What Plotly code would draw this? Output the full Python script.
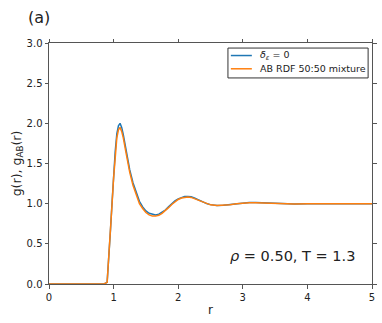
import plotly.graph_objects as go

r = [0.0, 0.2, 0.4, 0.6, 0.8, 0.85, 0.9, 0.925, 0.95, 0.975, 1.0, 1.025, 1.05, 1.075, 1.1, 1.125, 1.15,
     1.2, 1.25, 1.3, 1.35, 1.4, 1.45, 1.5, 1.55, 1.6, 1.65, 1.7, 1.75, 1.8, 1.85, 1.9, 1.95,
     2.0, 2.05, 2.1, 2.15, 2.2, 2.25, 2.3, 2.35, 2.4, 2.45, 2.5, 2.6, 2.7, 2.8, 2.9, 3.0,
     3.1, 3.2, 3.3, 3.4, 3.5, 3.6, 3.7, 3.8, 4.0, 4.2, 4.4, 4.6, 4.8, 5.0]
g_blue = [0, 0, 0, 0, 0, 0, 0.02, 0.3, 0.65, 1.0, 1.35, 1.65, 1.87, 1.97, 2.0, 1.95, 1.86,
          1.63, 1.42, 1.26, 1.13, 1.03, 0.96, 0.91, 0.88, 0.865, 0.86, 0.87, 0.89, 0.92, 0.96, 1.0, 1.035,
          1.06, 1.078, 1.088, 1.09, 1.085, 1.07, 1.05, 1.03, 1.012, 0.998, 0.988, 0.978, 0.98, 0.99, 1.0, 1.008,
          1.013, 1.014, 1.012, 1.007, 1.002, 0.998, 0.996, 0.997, 1.0, 1.002, 1.001, 1.0, 1.0, 1.0]
g_orange = [0, 0, 0, 0, 0, 0, 0.02, 0.3, 0.64, 0.98, 1.32, 1.6, 1.82, 1.92, 1.95, 1.9, 1.82,
            1.6, 1.39, 1.23, 1.1, 1.0, 0.94, 0.89, 0.86, 0.845, 0.845, 0.855, 0.88, 0.91, 0.95, 0.99, 1.025,
            1.052, 1.07, 1.08, 1.083, 1.078, 1.063, 1.044, 1.025, 1.008, 0.995, 0.985, 0.976, 0.978, 0.988, 0.998, 1.006,
            1.011, 1.012, 1.01, 1.006, 1.001, 0.998, 0.996, 0.997, 1.0, 1.002, 1.001, 1.0, 1.0, 1.0]

series_names = ["<i>δ</i><sub><i>ε</i></sub> = 0", "AB RDF 50:50 mixture"]
series_colors = ["#1f77b4", "#ff7f0e"]
x_ticks = [0, 1, 2, 3, 4, 5]
y_ticks = [0.0, 0.5, 1.0, 1.5, 2.0, 2.5, 3.0]

font = "DejaVu Sans"
axcol = "#555555"

fig = go.Figure()
for ys, nm, col in zip([g_blue, g_orange], series_names, series_colors):
    fig.add_trace(go.Scatter(x=r, y=ys, mode="lines", line=dict(color=col, width=1.5),
                             name=nm, showlegend=False))

# legend drawn manually (matplotlib-like compact box)
shapes = [dict(type="rect", xref="paper", yref="paper", x0=0.554, x1=0.988, y0=0.855, y1=0.979,
               line=dict(color="#333333", width=1), fillcolor="white", layer="above")]
annotations = []
leg_y = [0.948, 0.893]
for yy, nm, col in zip(leg_y, series_names, series_colors):
    shapes.append(dict(type="line", xref="paper", yref="paper", x0=0.563, x1=0.628, y0=yy, y1=yy,
                       line=dict(color=col, width=1.5), layer="above"))
    annotations.append(dict(text=nm, xref="paper", yref="paper", x=0.646, y=yy, xanchor="left",
                            yanchor="middle", showarrow=False, font=dict(size=9.5, color="#222222")))

annotations += [
    dict(text="(a)", xref="paper", yref="paper", x=-0.07, y=1.06, xanchor="left", yanchor="bottom",
         showarrow=False, font=dict(size=16)),
    dict(text="<i>ρ</i> = 0.50, T = 1.3", xref="paper", yref="paper", x=0.955, y=0.117,
         xanchor="right", yanchor="middle", showarrow=False, font=dict(size=14.5)),
]

fig.update_layout(
    width=382, height=323,
    margin=dict(l=49, r=10, t=43, b=39, autoexpand=False),
    plot_bgcolor="white", paper_bgcolor="white",
    font=dict(family=font, color="#222222", size=10),
    showlegend=False,
    shapes=shapes,
    annotations=annotations,
    xaxis=dict(range=[0, 5], tickvals=x_ticks, ticktext=[str(v) for v in x_ticks],
               showline=True, linecolor=axcol, linewidth=1, mirror="ticks", automargin=False,
               ticks="outside", ticklen=3.5, tickcolor=axcol, showgrid=False, zeroline=False,
               title=dict(text="r", font=dict(size=12), standoff=4)),
    yaxis=dict(range=[0, 3], tickvals=y_ticks, ticktext=["%.1f" % v for v in y_ticks],
               showline=True, linecolor=axcol, linewidth=1, mirror="ticks", automargin=False,
               ticks="outside", ticklen=3.5, tickcolor=axcol, showgrid=False, zeroline=False,
               title=dict(text="g(r), g<sub>AB</sub>(r)", font=dict(size=12.5), standoff=2)),
)

fig.write_html("out.html", config={"displayModeBar": False},
               post_script="document.body.style.margin='0';document.body.style.padding='0';")
